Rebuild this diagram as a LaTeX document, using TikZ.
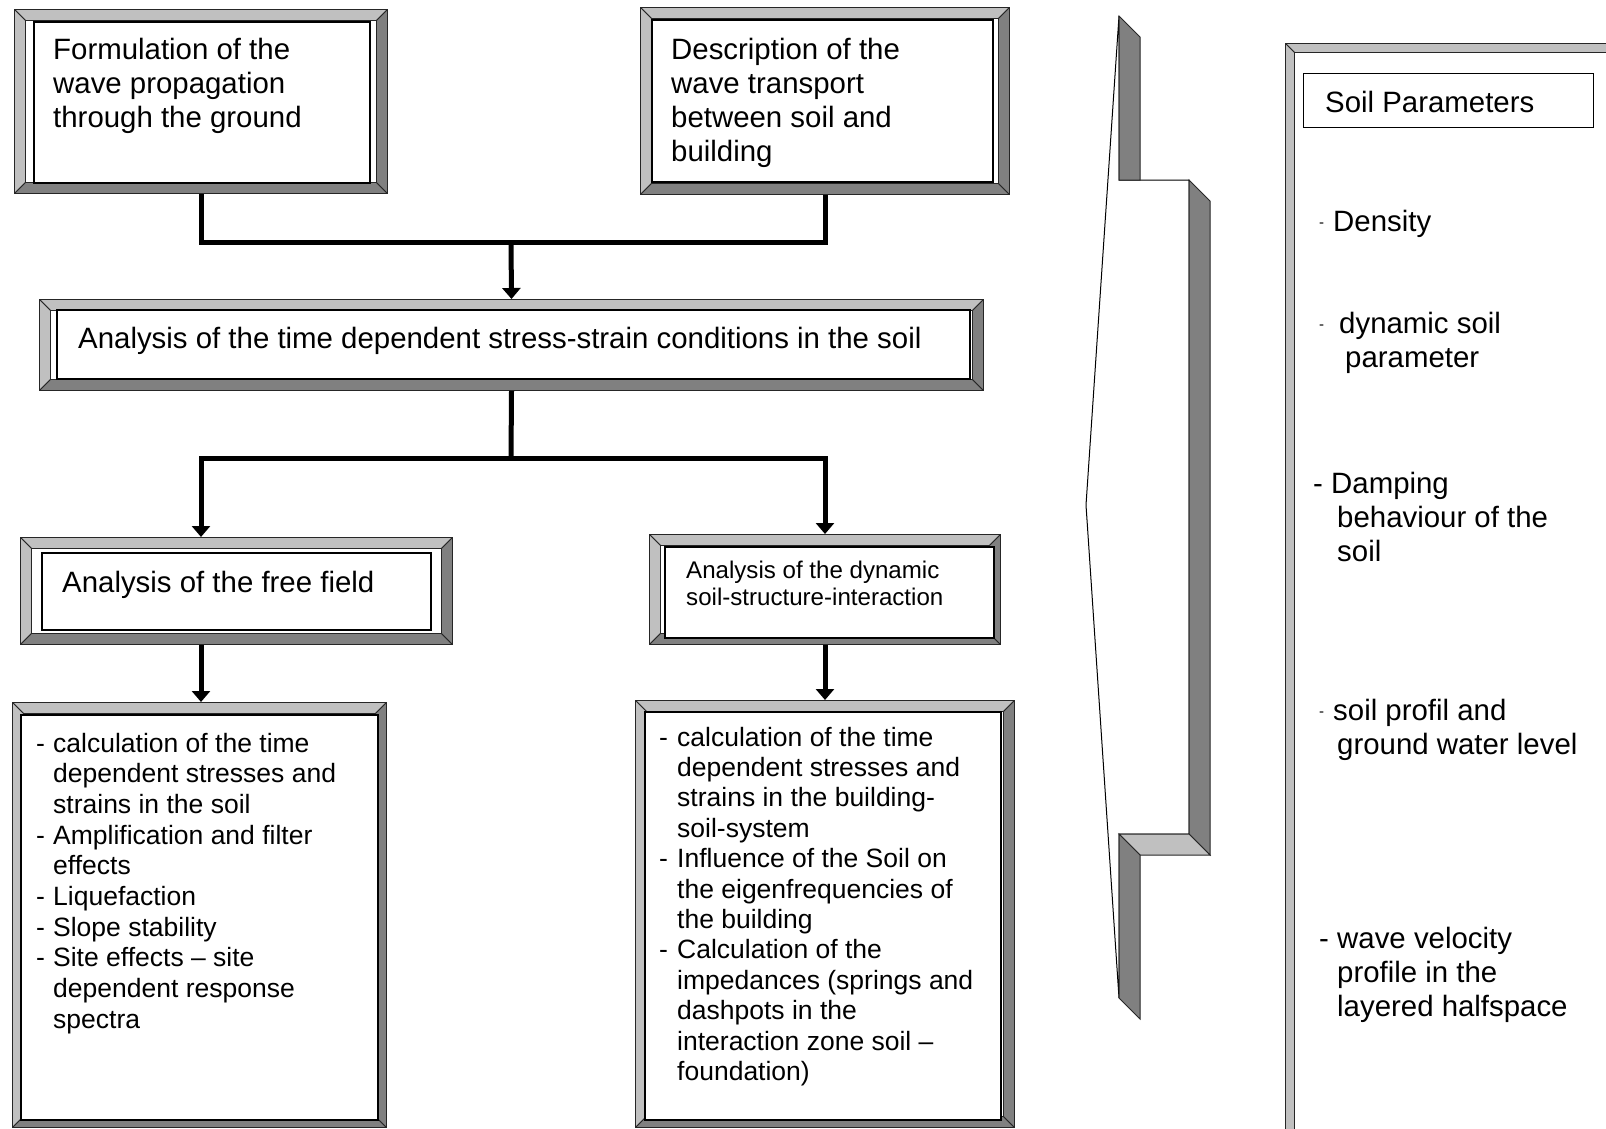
\documentclass[tikz,border=0pt]{standalone}
\usepackage{fontspec}
\setmainfont{Liberation Sans}
\usetikzlibrary{arrows.meta,calc}

\definecolor{bevlight}{RGB}{192,192,192}
\definecolor{bevdark}{RGB}{128,128,128}

\newcommand{\sdash}{\raisebox{3.5pt}{\fontsize{15}{15}\selectfont -}}
\newlength{\dashgap}
\newcommand{\dashitem}[1]{\par\noindent\hangindent=\dashgap\hangafter=1\makebox[\dashgap][l]{-}#1}

\tikzset{
  bevel/.style={draw=black!85, line width=1pt, anchor=north west, inner sep=0pt, fill=white,
    path picture={
      \coordinate (bNW) at (path picture bounding box.north west);
      \coordinate (bSE) at (path picture bounding box.south east);
      \filldraw[fill=bevlight, draw=black!85, line width=.8pt] (bNW) -- (bNW -| bSE) -- ($(bNW -| bSE)+(-#1,#1)$) -- ($(bNW)+(#1,#1)$) -- cycle;
      \filldraw[fill=bevlight, draw=black!85, line width=.8pt] (bNW) -- ($(bNW)+(#1,#1)$) -- ($(bNW |- bSE)+(#1,-#1)$) -- (bNW |- bSE) -- cycle;
      \filldraw[fill=bevdark, draw=black!85, line width=.8pt] (bNW |- bSE) -- ($(bNW |- bSE)+(#1,-#1)$) -- ($(bSE)+(-#1,-#1)$) -- (bSE) -- cycle;
      \filldraw[fill=bevdark, draw=black!85, line width=.8pt] (bSE) -- ($(bSE)+(-#1,-#1)$) -- ($(bNW -| bSE)+(-#1,#1)$) -- (bNW -| bSE) -- cycle;
    }},
  bevel/.default=11,
  inbox/.style={draw=black, line width=1.6pt, anchor=north west, inner sep=0pt, fill=white},
  txt/.style={anchor=base west, inner sep=0pt, font=\fontsize{29.4}{34}\selectfont},
  conn/.style={line width=5pt},
  arr/.style={conn, -{Triangle[width=18pt,length=11pt]}},
}

\begin{document}
\begin{tikzpicture}[x=1pt, y=-1pt]
\useasboundingbox (0,0) rectangle (1606,1128);

% top boxes
\node[bevel, minimum width=373, minimum height=184] (formul) at (14,9) {};
\node[inbox, minimum width=336, minimum height=161] (formulIn) at (33,21) {};
\node[txt] (formulTxt) at (53,59) {\parbox[t]{310pt}{Formulation of the\\wave propagation\\through the ground}};

\node[bevel, minimum width=369, minimum height=187] (descr) at (640,7) {};
\node[inbox, minimum width=341, minimum height=162] (descrIn) at (651,19) {};
\node[txt] (descrTxt) at (671,59) {\parbox[t]{310pt}{Description of the\\wave transport\\between soil and\\building}};

% middle box
\node[bevel, minimum width=944, minimum height=91] (analysis) at (39,299) {};
\node[inbox, minimum width=913, minimum height=69] (analysisIn) at (56,309) {};
\node[txt] (analysisTxt) at (78,348) {Analysis of the time dependent stress-strain conditions in the soil};

% second row
\node[bevel, minimum width=432, minimum height=107] (freefield) at (20,537) {};
\node[inbox, minimum width=389, minimum height=77] (freefieldIn) at (41,552) {};
\node[txt] (freefieldTxt) at (62,592) {Analysis of the free field};

\node[bevel, minimum width=351, minimum height=110] (ssi) at (649,534) {};
\node[inbox, minimum width=329, minimum height=91] (ssiIn) at (664,546) {};
\node[txt, font=\fontsize{24.1}{27.7}\selectfont] (ssiTxt) at (686,578) {\parbox[t]{300pt}{Analysis of the dynamic\\soil-structure-interaction}};

% result lists
\node[bevel, minimum width=374, minimum height=425] (soilres) at (12,702) {};
\node[inbox, minimum width=357, minimum height=405] (soilresIn) at (20,714) {};
\node[txt, font=\fontsize{26.5}{30.7}\selectfont] (soilresTxt) at (36,752) {\parbox[t]{340pt}{\setlength{\dashgap}{17pt}\raggedright
  \dashitem{calculation of the time\newline dependent stresses and\newline strains in the soil}
  \dashitem{Amplification and filter\newline effects}
  \dashitem{Liquefaction}
  \dashitem{Slope stability}
  \dashitem{Site effects – site\newline dependent response\newline spectra}}};

\node[bevel, minimum width=379, minimum height=427] (ssires) at (635,700) {};
\node[inbox, minimum width=356, minimum height=408] (ssiresIn) at (644,711) {};
\node[txt, font=\fontsize{26.5}{30.4}\selectfont] (ssiresTxt) at (659,746) {\parbox[t]{335pt}{\setlength{\dashgap}{18pt}\raggedright
  \dashitem{calculation of the time\newline dependent stresses and\newline strains in the building-\newline soil-system}
  \dashitem{Influence of the Soil on\newline the eigenfrequencies of\newline the building}
  \dashitem{Calculation of the\newline impedances (springs and\newline dashpots in the\newline interaction zone soil –\newline foundation)}}};

% soil parameters
\node[bevel=9, minimum width=340, minimum height=1100] (soilpar) at (1285,43) {};
\node[inbox, line width=1.2pt, minimum width=290, minimum height=54] (soilparIn) at (1303,73) {};
\node[txt] (soilparTxt) at (1325,112) {Soil Parameters};
\node[txt] (density) at (1319,231) {\makebox[14pt][l]{\sdash}Density};
\node[txt] (dynsoil) at (1319,333) {\parbox[t]{280pt}{\makebox[20pt][l]{\sdash}dynamic soil\\\hspace*{26pt}parameter}};
\node[txt] (damping) at (1313,493) {\parbox[t]{280pt}{\makebox[18pt][l]{-}Damping\\\hspace*{24pt}behaviour of the\\\hspace*{24pt}soil}};
\node[txt] (profil) at (1319,720) {\parbox[t]{280pt}{\makebox[14pt][l]{\sdash}soil profil and\\\hspace*{18pt}ground water level}};
\node[txt] (velocity) at (1319,948) {\parbox[t]{280pt}{\makebox[18pt][l]{-}wave velocity\\\hspace*{18pt}profile in the\\\hspace*{18pt}layered halfspace}};

% brace
\filldraw[fill=white, draw=black, line width=1pt] (1119,16) -- (1086,505) -- (1119,998) -- (1119,834) -- (1189,834) -- (1189,180) -- (1119,180) -- cycle;
\filldraw[fill=bevdark, draw=black!85, line width=1pt] (1119,16) -- (1140,37) -- (1140,180) -- (1119,180) -- cycle;
\filldraw[fill=bevdark, draw=black!85, line width=1pt] (1189,180) -- (1210,201) -- (1210,855) -- (1189,834) -- cycle;
\filldraw[fill=bevlight, draw=black!85, line width=1pt] (1119,834) -- (1189,834) -- (1210,855) -- (1140,855) -- cycle;
\filldraw[fill=bevdark, draw=black!85, line width=1pt] (1119,834) -- (1140,855) -- (1140,1019) -- (1119,998) -- cycle;

% connectors
\coordinate (join1) at (511,242);
\coordinate (split) at (511,458);
\draw[conn] (formul.south) |- (join1) -| (descr.south);
\draw[arr] (join1) -- (analysis.north);
\draw[conn] (analysis.south) -- (split);
\draw[arr] (split) -| (formul.south |- freefield.north);
\draw[arr] (split) -| (ssi.north);
\draw[arr] (formul.south |- freefield.south) -- (formul.south |- soilres.north);
\draw[arr] (ssi.south) -- (ssires.north);

\end{tikzpicture}
\end{document}
